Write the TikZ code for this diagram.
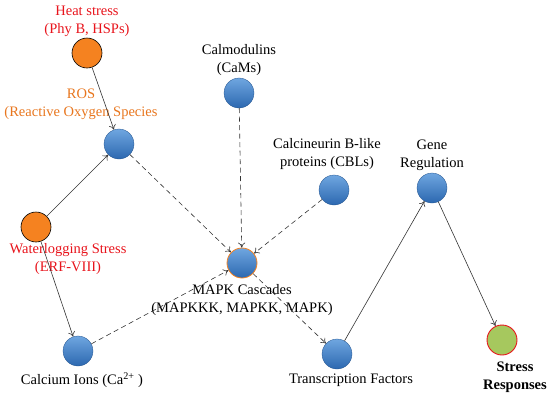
\documentclass[tikz,border=0pt]{standalone}
\usepackage{fontspec}
\setmainfont{Liberation Serif}
\usetikzlibrary{arrows.meta}
\definecolor{bluetop}{HTML}{6FA6E0}
\definecolor{bluebot}{HTML}{2C68B0}
\definecolor{orng}{HTML}{F58220}
\definecolor{rosorange}{HTML}{E8761E}
\definecolor{redtxt}{HTML}{E8141C}
\definecolor{grn}{HTML}{A6C85E}
\definecolor{lnc}{HTML}{333333}
\begin{document}
\begin{tikzpicture}[x=1pt,y=-1pt,
  ball/.style={circle,minimum width=30pt,minimum height=29pt,inner sep=0pt},
  blueball/.style={ball,top color=bluetop,bottom color=bluebot,draw=bluebot!80!black,line width=0.3pt},
  orangeball/.style={ball,fill=orng,draw=black,line width=0.6pt},
  lbl/.style={font=\fontsize{14.5}{18}\selectfont,align=center,inner sep=0pt},
  sol/.style={draw=lnc,line width=0.6pt,-{To[length=5pt,width=7pt]}},
  dsh/.style={sol,dash pattern=on 5pt off 3.5pt}]
\useasboundingbox (0,0) rectangle (550,400);
% nodes
\node[orangeball] (heat) at (87,53) {};
\node[blueball] (ros) at (119,144) {};
\node[orangeball] (water) at (36,227) {};
\node[blueball] (ca) at (78,351) {};
\node[blueball] (cam) at (239,93) {};
\node[blueball] (cbl) at (334,190) {};
\node[blueball,draw=orng,line width=0.8pt] (mapk) at (242,263) {};
\node[blueball] (tf) at (337,354) {};
\node[blueball] (gene) at (432,188) {};
\node[ball,fill=grn,draw=redtxt,line width=0.9pt] (resp) at (502,340) {};
% labels
\node[lbl,text=redtxt] (heatl) at (87,21) {Heat stress\\(Phy B, HSPs)};
\node[lbl,text=rosorange] (rosl) at (81,104) {ROS\\(Reactive Oxygen Species};
\node[lbl] (caml) at (239,60) {Calmodulins\\(CaMs)};
\node[lbl] (cbll) at (327,154) {Calcineurin B-like\\proteins (CBLs)};
\node[lbl,text=redtxt] (waterl) at (68,259) {Waterlogging Stress\\(ERF-VIII)};
\node[lbl] (cal) at (82,380) {Calcium Ions (Ca\textsuperscript{2+} )};
\node[lbl] (mapkl) at (242,300) {MAPK Cascades\\(MAPKKK, MAPKK, MAPK)};
\node[lbl] (tfl) at (351,380) {Transcription Factors};
\node[lbl] (genel) at (432,155) {Gene\\Regulation};
\node[lbl,font=\fontsize{14.5}{18}\selectfont\bfseries] (respl) at (515,377) {Stress\\Responses};
% connectors
\draw[sol] (heat) -- (ros);
\draw[sol] (water) -- (ros);
\draw[sol] (water) -- (ca);
\draw[dsh] (ros) -- (mapk);
\draw[dsh] (cam) -- (mapk);
\draw[dsh] (cbl) -- (mapk);
\draw[dsh] (ca) -- (mapk);
\draw[dsh] (mapk) -- (tf);
\draw[sol] (tf) -- (gene);
\draw[sol] (gene) -- (resp);
\end{tikzpicture}
\end{document}
